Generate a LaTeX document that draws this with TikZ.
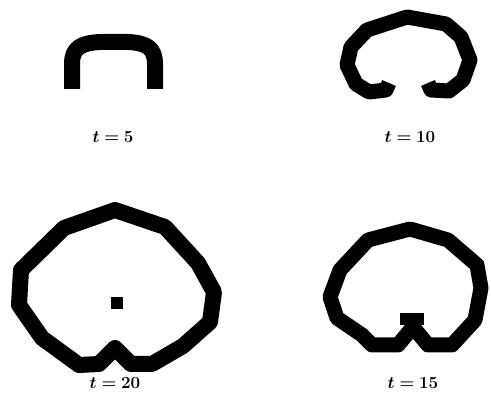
\RequirePackage{fix-cm}
\documentclass[tikz,border=0pt]{standalone}
\usepackage{amsmath}
\usepackage{bm}

\begin{document}
\begin{tikzpicture}[x=1pt,y=-1pt,
  ring/.style={line width=15pt,line join=round},
  lab/.style={inner sep=0pt,font=\fontsize{17}{19}\selectfont}]
\useasboundingbox (0,0) rectangle (491,393);
% ---------- t = 5 ----------
\draw[ring,line width=16pt] (72,89) -- (72,64) .. controls (72,47) and (82,43) .. (100,42)
  -- (128,42) .. controls (147,43) and (155,48) .. (155,64) -- (155,89);
\node[lab] (l5) at (113,137) {$\bm{t=5}$};
% ---------- t = 10 ----------
\draw[ring] (389,83) -- (386,90) -- (369,92) -- (356,84) -- (347,65)
  -- (351,47) -- (367,30) -- (407,17) -- (446,24) -- (461,37)
  -- (470,60) -- (463,80) -- (449,91) -- (431,90) -- (428,83);
\node[lab] (l10) at (410,137) {$\bm{t=10}$};
% ---------- t = 20 ----------
\draw[ring,line width=16pt] (115,210) -- (165,227) -- (198,263) -- (214,292)
  -- (210,322) -- (183,346) -- (152,364) -- (131,364) -- (115,348)
  -- (99,364) -- (79,365) -- (42,338) -- (19,305) -- (21,270)
  -- (64,228) -- cycle;
\fill (111,297) rectangle (123,309);
\node[lab] (l20) at (115,383) {$\bm{t=20}$};
% ---------- t = 15 ----------
\draw[ring] (410,229) -- (448,240) -- (477,265) -- (481,288) -- (475,320)
  -- (452,345) -- (428,345) -- (413,327) -- (398,345) -- (372,345)
  -- (362,335) -- (337,318) -- (330,297) -- (340,270) -- (368,240) -- cycle;
\fill (400,313) rectangle (424,325);
\node[lab] (l15) at (413,383) {$\bm{t=15}$};
\end{tikzpicture}
\end{document}
